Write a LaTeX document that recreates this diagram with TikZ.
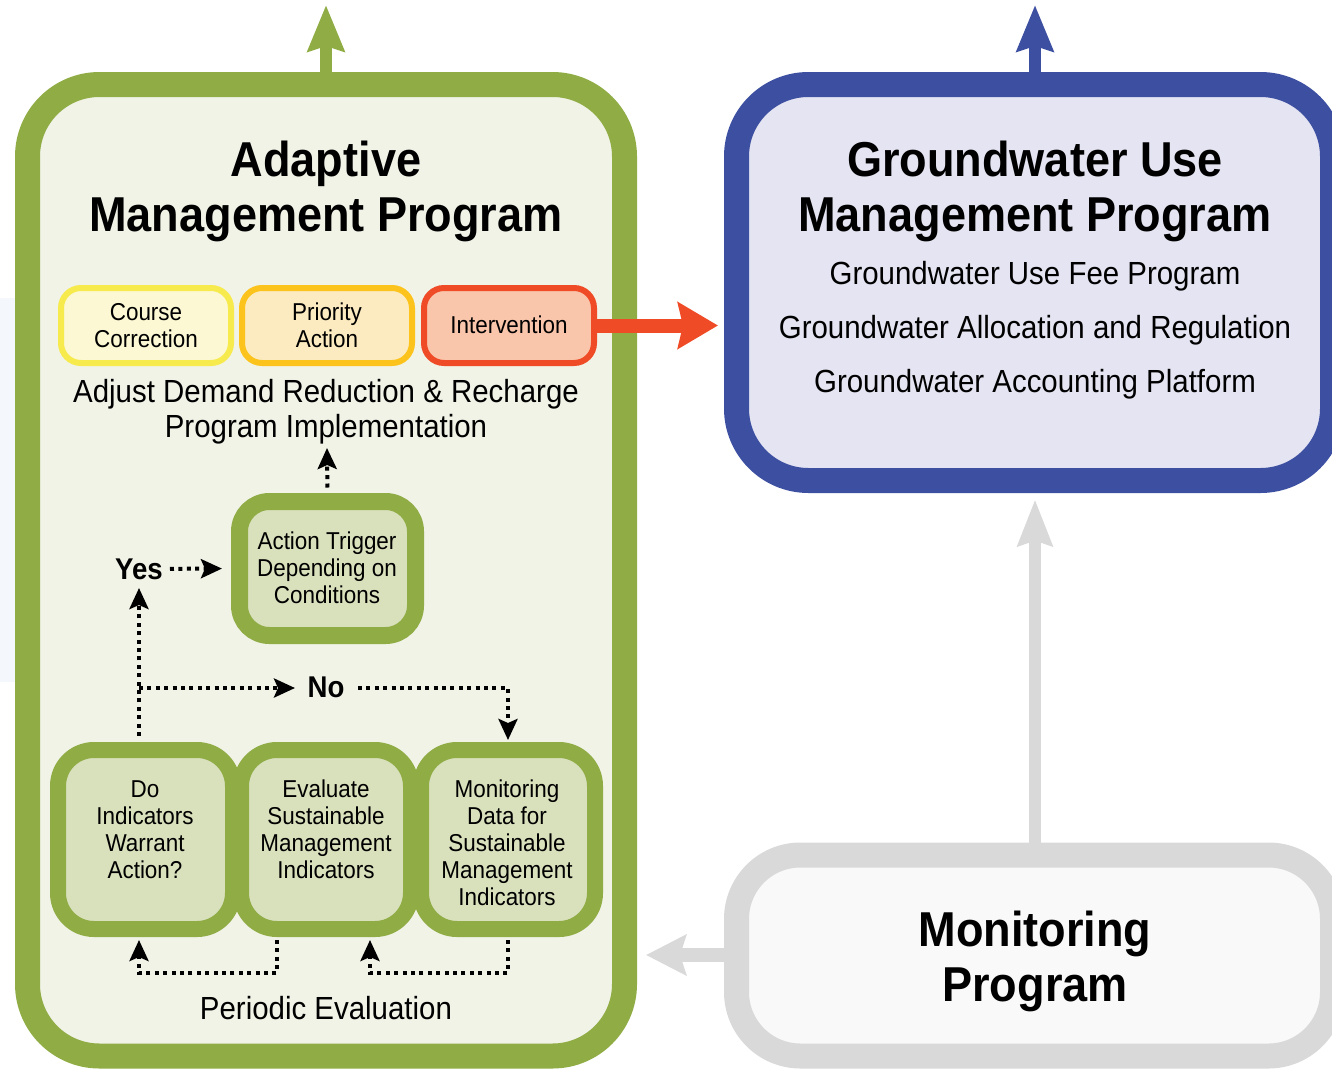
\documentclass[tikz,border=0pt]{standalone}
\usepackage{fontspec}
\setmainfont{Liberation Sans}[FakeStretch=0.92]
\usetikzlibrary{arrows.meta}
\definecolor{grn}{HTML}{8FAC45}
\definecolor{grnfill}{HTML}{F1F3E7}
\definecolor{boxfill}{HTML}{D9E0BC}
\definecolor{blu}{HTML}{3C4FA1}
\definecolor{blufill}{HTML}{E4E4F2}
\definecolor{gry}{HTML}{D9D9D9}
\definecolor{gryfill}{HTML}{F9F9F9}
\definecolor{org}{HTML}{EF4B27}
\definecolor{orgfill}{HTML}{F9C5AB}
\definecolor{yel}{HTML}{F6EA4D}
\definecolor{yelfill}{HTML}{FBF8D3}
\definecolor{gold}{HTML}{FBC31B}
\definecolor{goldfill}{HTML}{FCEBC0}
\definecolor{faint}{HTML}{F4F7FB}
\begin{document}
\begin{tikzpicture}[x=1pt,y=-1pt,
  bigbox/.style={draw, rounded corners=72pt, line width=25pt, inner sep=0pt, outer sep=0pt},
  tagbox/.style={draw, rounded corners=20pt, line width=6pt, minimum width=170pt, minimum height=75pt, inner sep=0pt, outer sep=0pt},
  stepbox/.style={draw=grn, fill=boxfill, line width=16pt, rounded corners=36pt, minimum height=179pt, inner sep=0pt, outer sep=0pt},
  titletext/.style={font=\fontsize{49}{55}\selectfont\bfseries, align=center, inner sep=0pt},
  subtext/.style={font=\fontsize{32}{35}\selectfont, align=center, inner sep=0pt},
  boxtext/.style={font=\fontsize{24.4}{27}\selectfont, align=center, inner sep=0pt},
  yntext/.style={font=\fontsize{30}{30}\selectfont\bfseries, inner sep=3pt},
  dotl/.style={line width=4pt, dash pattern=on 4pt off 4.4pt, -{Stealth[length=21pt,width=19pt,inset=4pt]}},
]
\useasboundingbox (0,0) rectangle (1332,1068);
\fill[faint] (0,298) rectangle (15,682);

% big boxes
\node[bigbox, draw=grn, fill=grnfill, minimum width=597pt, minimum height=971.5pt] (amp) at (326,570.25) {};
\node[bigbox, draw=blu, fill=blufill, minimum width=596pt, minimum height=396pt] (gum) at (1034.5,282.5) {};
\node[bigbox, draw=gry, fill=gryfill, rounded corners=64pt, minimum width=596pt, minimum height=201pt] (mon) at (1034.5,955.5) {};

% named free ends
\coordinate (gtop) at (326,5);
\coordinate (btop) at (1035,5);

% thick arrows
\draw[grn, line width=12pt, -{Stealth[length=46pt,width=36pt,inset=5pt]}] (amp.north) -- (gtop);
\draw[blu, line width=12pt, -{Stealth[length=46pt,width=36pt,inset=5pt]}] (gum.north -| btop) -- (btop);
\draw[gry, line width=12pt, shorten >=19pt, -{Stealth[length=46pt,width=34pt,inset=5pt]}] (mon.north -| btop) -- (gum.south -| btop);
\draw[gry, line width=14pt, shorten >=21.5pt, -{Stealth[length=40pt,width=40pt,inset=6pt]}] (mon.west |- 0,955) -- (amp.east |- 0,955);

% titles (anchor base = last line's baseline)
\node[titletext, anchor=base] (ampT) at (326,231) {Adaptive\\Management Program};
\node[titletext, anchor=base] (gumT) at (1035,231) {Groundwater Use\\Management Program};
\node[titletext, anchor=base] (monT) at (1035,1001) {Monitoring\\Program};
\node[subtext, anchor=base, font=\fontsize{32}{54}\selectfont] (gumL) at (1035,392) {Groundwater Use Fee Program\\Groundwater Allocation and Regulation\\Groundwater Accounting Platform};

% tag boxes
\node[tagbox, draw=yel, fill=yelfill] (cc) at (146,325.5) {};
\node[tagbox, draw=gold, fill=goldfill] (pa) at (327,325.5) {};
\node[tagbox, draw=org, fill=orgfill] (iv) at (509,325.5) {};
\node[boxtext, anchor=base] (ccT) at (146,347) {Course\\Correction};
\node[boxtext, anchor=base] (paT) at (327,347) {Priority\\Action};
\node[boxtext, anchor=base] (ivT) at (509,333) {Intervention};

\draw[org, line width=14pt, shorten >=18.5pt, -{Stealth[length=40pt,width=46pt,inset=5pt]}] (iv.east) -- (gum.west |- iv.east);

\node[subtext, anchor=base] (adj) at (326,437) {Adjust Demand Reduction \& Recharge\\Program Implementation};

% action trigger
\node[stepbox, line width=17pt, rounded corners=30pt, minimum width=176pt, minimum height=134pt] (act) at (327.5,568.5) {};
\node[boxtext, anchor=base] (actT) at (327,603) {Action Trigger\\Depending on\\Conditions};

% bottom boxes
\node[stepbox, minimum width=175pt] (b1) at (145.5,839.5) {};
\node[stepbox, minimum width=170pt] (b2) at (326,839.5) {};
\node[stepbox, minimum width=174pt] (b3) at (508,839.5) {};
\node[boxtext, anchor=base] (b1T) at (145,878) {Do\\Indicators\\Warrant\\Action?};
\node[boxtext, anchor=base] (b2T) at (326,878) {Evaluate\\Sustainable\\Management\\Indicators};
\node[boxtext, anchor=base] (b3T) at (507,905) {Monitoring\\Data for\\Sustainable\\Management\\Indicators};

% yes / no
\node[yntext, anchor=base] (yes) at (139,579) {Yes};
\node[yntext, anchor=base] (no) at (326,697) {No};

\coordinate (adjTip) at (327,448);
\coordinate (b1up) at (139,736);
\coordinate (yesTip) at (139,588);
\coordinate (jn) at (139,688);
\coordinate (noTip) at (295,688);
\coordinate (noR) at (358,688);
\coordinate (e1) at (277,940);
\coordinate (e1t) at (139,940);
\coordinate (e2) at (508,940);
\coordinate (e2t) at (370,940);

\draw[dotl, shorten <=14pt] (act.north) -- (adjTip);
\draw[dotl] (b1up) -- (yesTip);
\draw[dotl, shorten <=4pt, shorten >=17.5pt] (yes.east) -- (act.west);
\draw[dotl] (jn) -- (noTip);
\draw[dotl, shorten >=10pt] (noR) -| (b3.north);
\draw[dotl] (e1) -- ++(0,33) -| (e1t);
\draw[dotl] (e2) -- ++(0,33) -| (e2t);

\node[subtext, anchor=base] (pe) at (326,1019) {Periodic Evaluation};
\end{tikzpicture}
\end{document}
